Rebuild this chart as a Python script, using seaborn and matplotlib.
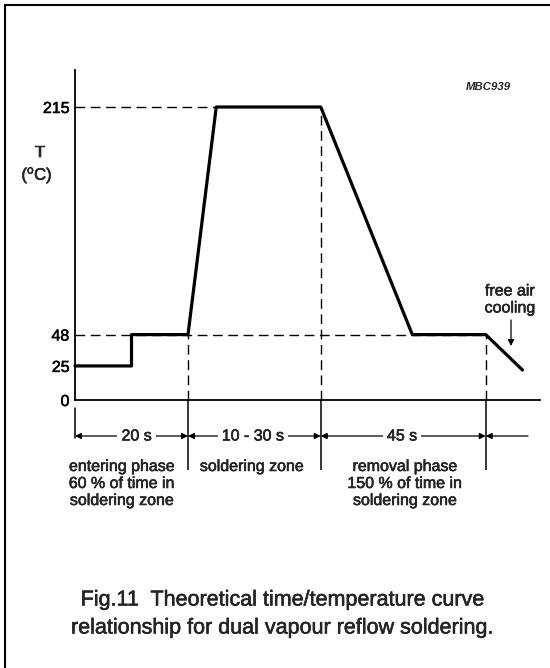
import matplotlib
matplotlib.use("Agg")
import matplotlib.pyplot as plt
from matplotlib.lines import Line2D
import matplotlib.patheffects as pe
import seaborn as sns
import pandas as pd

# ---- data (schematic time units) ----
time_s = [0, 10, 10, 20, 25, 43.5, 59.7, 72.7, 79.2]
temp_c = [25, 25, 48, 48, 215, 215, 48, 48, 22]
ytick_values = [0, 25, 48, 215]
ref_levels = [215, 48]
ref_level_ends = [25, 72.7]
zone_bounds = [0, 20, 43.5, 72.7]
zone_bound_tops = [None, 48, 215, 48]
span_labels = ["20 s", "10 - 30 s", "45 s"]
span_label_x = [10.9, 31.5, 57.9]
zone_texts = [["entering phase", "60 % of time in", "soldering zone"],
              ["soldering zone"],
              ["removal phase", "150 % of time in", "soldering zone"]]
zone_text_x = [8.3, 31.3, 58.4]
caption = ["Fig.11  Theoretical time/temperature curve",
           "relationship for dual vapour reflow soldering."]

sns.set_style("white")
plt.rcParams["font.family"] = ["Liberation Sans", "DejaVu Sans"]
plt.rcParams["mathtext.fontset"] = "custom"
plt.rcParams["mathtext.rm"] = "Liberation Sans"
plt.rcParams["mathtext.it"] = "Liberation Sans:italic"

heavy = [pe.withStroke(linewidth=0.35, foreground="black")]

W, H = 550, 668
fig = plt.figure(figsize=(W / 100, H / 100), dpi=100)
fig.patch.set_facecolor("white")

# pixel layout of the axes
ax_left_px, ax_right_px, ax_bottom_px, ax_top_px = 75, 540, 400, 70
ax = fig.add_axes([ax_left_px / W, (H - ax_bottom_px) / H,
                   (ax_right_px - ax_left_px) / W, (ax_bottom_px - ax_top_px) / H])
px_per_s = 5.65
px_per_deg = 1.3628
ax.set_xlim(0, (ax_right_px - ax_left_px) / px_per_s)
ax.set_ylim(0, (ax_bottom_px - ax_top_px) / px_per_deg)
ax.set_facecolor("white")

def T(py):
    return (ax_bottom_px - py) / px_per_deg

def t(px):
    return (px - ax_left_px) / px_per_s

df = pd.DataFrame({"time": time_s, "temp": temp_c})
sns.lineplot(data=df, x="time", y="temp", sort=False, estimator=None,
             color="black", lw=2.3, ax=ax, zorder=5, clip_on=False)

dash = (7, 4)
for lvl, end in zip(ref_levels, ref_level_ends):
    ax.plot([0, end], [lvl, lvl], color="black", lw=1.0, dashes=dash, zorder=3)

row_T = T(436)
bottom_T = T(470)
for xb, top in zip(zone_bounds, zone_bound_tops):
    if top is not None:
        ax.plot([xb, xb], [0, top], color="black", lw=1.0, dashes=dash, zorder=3)
        ax.plot([xb, xb], [0, bottom_T], color="black", lw=1.1,
                solid_capstyle="butt", clip_on=False, zorder=4)
    else:
        ax.plot([xb, xb], [T(408), T(438)], color="black", lw=1.1, clip_on=False)

# span arrows
arrow_kw = dict(arrowstyle="<|-|>", color="black", lw=0.9,
                mutation_scale=9, shrinkA=0, shrinkB=0)
for i, lab in enumerate(span_labels):
    ax.annotate("", xy=(zone_bounds[i], row_T), xytext=(zone_bounds[i + 1], row_T),
                xycoords="data", arrowprops=arrow_kw, annotation_clip=False)
    ax.text(span_label_x[i], row_T, lab, ha="center", va="center", fontsize=11.5,
            bbox=dict(facecolor="white", edgecolor="none", pad=3), zorder=6,
            clip_on=False, path_effects=heavy)
ax.annotate("", xy=(zone_bounds[-1], row_T), xytext=(t(528), row_T), xycoords="data",
            arrowprops=dict(arrowstyle="-|>", color="black", lw=0.9,
                            mutation_scale=9, shrinkA=0, shrinkB=0),
            annotation_clip=False)

# zone descriptions
for xs, lines in zip(zone_text_x, zone_texts):
    for j, line in enumerate(lines):
        ax.annotate(line, xy=(xs, T(466.5)), xytext=(0, -j * 17 * 0.72),
                    textcoords="offset points", ha="center", va="center",
                    fontsize=11.5, annotation_clip=False, path_effects=heavy)

# free air cooling
ax.text(t(510), T(291), "free air", ha="center", va="center", fontsize=11.5,
        path_effects=heavy)
ax.text(t(510), T(308), "cooling", ha="center", va="center", fontsize=11.5,
        path_effects=heavy)
ax.annotate("", xy=(t(511), T(346)), xytext=(t(511), T(320)), xycoords="data",
            arrowprops=dict(arrowstyle="-|>", color="black", lw=0.9,
                            mutation_scale=9, shrinkA=0, shrinkB=0))

ax.text(t(488.5), T(86.7), "MBC939", ha="center", va="center", fontsize=8.2,
        fontweight="bold", fontstyle="italic")

# axis label
ax.text(t(40), T(152), "T", ha="center", va="center", fontsize=11.5, clip_on=False,
        path_effects=heavy)
ax.text(t(37), T(175), r"($^{\mathrm{o}}$C)", ha="center", va="center",
        fontsize=12, clip_on=False, path_effects=heavy)

# axes styling
sns.despine(ax=ax, top=True, right=True)
for s in ("left", "bottom"):
    ax.spines[s].set_color("black")
    ax.spines[s].set_linewidth(1.3)
ax.set_xticks([])
ax.set_yticks(ytick_values)
ax.set_yticklabels([str(v) for v in ytick_values])
ax.tick_params(axis="y", length=0, pad=4, labelsize=11.5, colors="black")
for lab in ax.get_yticklabels():
    lab.set_path_effects(heavy)
ax.set_xlabel("")
ax.set_ylabel("")
ax.grid(False)

# caption
for j, line in enumerate(caption):
    fig.text(282 / W, 1 - (600 + j * 28) / H, line, ha="center", va="center",
             fontsize=15.5, path_effects=heavy)

# page frame (left and top edges)
fig.add_artist(Line2D([5 / W, 5 / W], [0, 1 - 5 / H], transform=fig.transFigure,
                      color="black", lw=1.5))
fig.add_artist(Line2D([5 / W, 1], [1 - 5 / H, 1 - 5 / H], transform=fig.transFigure,
                      color="black", lw=1.5))

fig.savefig("out.png", dpi=100, facecolor="white")
